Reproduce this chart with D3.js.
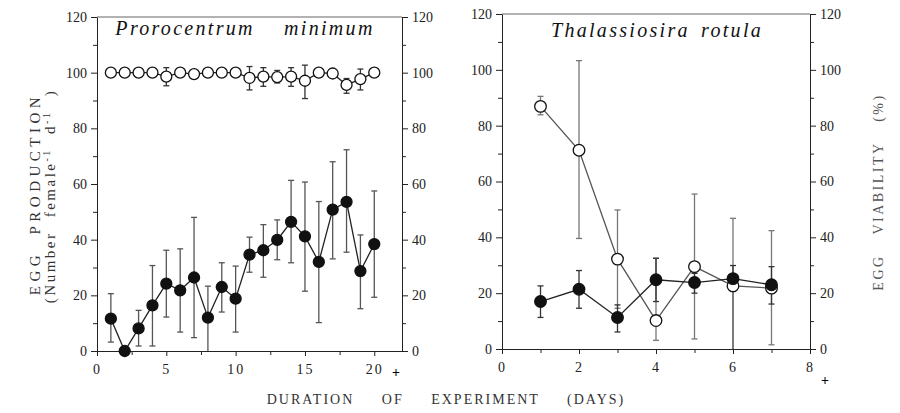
<!DOCTYPE html>
<html>
<head>
<meta charset="utf-8">
<script src="https://cdn.jsdelivr.net/npm/d3@7"></script>
<style>
  body { margin: 0; background: #fff; }
  svg text { font-family: "Liberation Serif", "DejaVu Serif", serif; }
  .axis path, .axis line { stroke: #222; }
  .axis text { font-size: 14px; fill: #222; }
</style>
</head>
<body>
<div id="chart"></div>
<script>
// Prorocentrum minimum (days 1-20)
var daysP = [1, 2, 3, 4, 5, 6, 7, 8, 9, 10, 11, 12, 13, 14, 15, 16, 17, 18, 19, 20];
var prodP   = [11.6, 0, 8.1, 16.4, 24.2, 21.8, 26.4, 12, 23, 18.8, 34.6, 36.2, 39.9, 46.4, 41.2, 32, 50.8, 53.6, 28.7, 38.4];
var prodPHi = [20.6, 0, 14.6, 30.7, 36.2, 36.7, 48, 23.3, 31.7, 30.5, 40.9, 45.4, 47.1, 61.3, 60.7, 53.7, 68, 72.3, 41.7, 57.5];
var prodPLo = [3.2, 0, 1.8, 1.8, 12.2, 6.8, 4.8, 0, 14, 6.8, 28.3, 26.5, 32.8, 31.7, 21.5, 10.2, 33.1, 35.5, 15.2, 19.3];
var viabP   = [100, 100, 100, 100, 98.6, 100, 99.5, 100, 100, 100, 98.1, 98.6, 98.4, 98.6, 97.1, 100, 99.7, 95.6, 97.7, 100];
var viabPHi = [100, 100, 100, 100, 101.8, 100, 99.5, 100, 100, 100, 102.2, 101.8, 100.8, 101.8, 102.7, 100, 99.7, 97.9, 101.3, 100];
var viabPLo = [100, 100, 100, 100, 95.3, 100, 99.5, 100, 100, 100, 93.8, 95.1, 96.3, 95.1, 90.7, 100, 99.7, 92.6, 93.8, 100];

// Thalassiosira rotula (days 1-7)
var daysT = [1, 2, 3, 4, 5, 6, 7];
var prodT   = [17.0, 21.4, 11.3, 24.8, 23.8, 25.2, 23.0];
var prodTHi = [22.6, 28.1, 15.8, 32.5, 27.1, 29.9, 29.5];
var prodTLo = [11.3, 14.6, 6.1, 17.0, 20.0, 0, 16.1];
var viabT   = [86.9, 71.2, 32.2, 10.2, 29.5, 22.6, 21.8];
var viabTHi = [90.5, 103.3, 49.8, 32.5, 55.5, 46.8, 42.4];
var viabTLo = [83.9, 39.6, 14.6, 3.1, 3.6, 20.6, 1.5];

var yTicks = [0, 20, 40, 60, 80, 100, 120];

var w = 900, h = 413;
var svg = d3.select("#chart").append("svg").attr("width", w).attr("height", h);

function series(days, vals, hi, lo) {
  return days.map(function(d, i) { return {x: d, y: vals[i], hi: hi[i], lo: lo[i]}; });
}

function drawPanel(cfg) {
  var x = d3.scaleLinear().domain([0, cfg.xmax]).range([cfg.x0, cfg.x1]);
  var y = d3.scaleLinear().domain([0, 120]).range([cfg.y0, cfg.y1]);
  var g = svg.append("g");

  // top frame line
  g.append("line")
    .attr("x1", x(0)).attr("x2", x(cfg.xmax))
    .attr("y1", y(120)).attr("y2", y(120))
    .style("stroke", "#999").style("stroke-width", 1.5);

  // minor y ticks
  var minor = d3.range(10, 120, 20);
  g.append("g").attr("class", "axis")
    .attr("transform", "translate(" + x(0) + ",0)")
    .call(d3.axisLeft(y).tickValues(minor).tickSize(4).tickFormat(""))
    .call(function(a) { a.select(".domain").remove(); });
  g.append("g").attr("class", "axis")
    .attr("transform", "translate(" + x(cfg.xmax) + ",0)")
    .call(d3.axisRight(y).tickValues(minor).tickSize(4).tickFormat(""))
    .call(function(a) { a.select(".domain").remove(); });

  // main y axes
  g.append("g").attr("class", "axis")
    .attr("transform", "translate(" + x(0) + ",0)")
    .call(d3.axisLeft(y).tickValues(yTicks).tickSize(6).tickSizeOuter(0).tickPadding(4));
  g.append("g").attr("class", "axis")
    .attr("transform", "translate(" + x(cfg.xmax) + ",0)")
    .call(d3.axisRight(y).tickValues(yTicks).tickSize(6).tickSizeOuter(0).tickPadding(4));

  // x axis
  g.append("g").attr("class", "axis")
    .attr("transform", "translate(0," + y(0) + ")")
    .call(d3.axisBottom(x).tickValues(cfg.minorX).tickSize(4).tickFormat(""))
    .call(function(a) { a.select(".domain").remove(); });
  g.append("g").attr("class", "axis")
    .attr("transform", "translate(0," + y(0) + ")")
    .call(d3.axisBottom(x).tickValues(cfg.xTicks).tickSize(5).tickSizeOuter(0).tickPadding(8))
    .selectAll("text").style("letter-spacing", "2px");

  // the small "+" after the last x label
  g.append("text")
    .attr("x", cfg.plusX).attr("y", cfg.plusY)
    .attr("text-anchor", "middle")
    .style("font-size", "14px").style("font-weight", "bold")
    .text("+");

  var line = d3.line().x(function(d) { return x(d.x); }).y(function(d) { return y(d.y); });

  cfg.sets.forEach(function(s) {
    // error bars
    var eb = g.append("g");
    s.data.forEach(function(d) {
      if (d.hi - d.lo < 0.5) return;
      eb.append("line")
        .attr("x1", x(d.x)).attr("x2", x(d.x))
        .attr("y1", y(d.hi)).attr("y2", y(d.lo))
        .style("stroke", s.barColor).style("stroke-width", 1.3);
      [d.hi, d.lo].forEach(function(v) {
        if (v <= 0) return;
        eb.append("line")
          .attr("x1", x(d.x) - 3).attr("x2", x(d.x) + 3)
          .attr("y1", y(v)).attr("y2", y(v))
          .style("stroke", s.barColor).style("stroke-width", 1.3);
      });
    });
  });

  cfg.sets.forEach(function(s) {
    g.append("path")
      .datum(s.data)
      .attr("d", line)
      .style("fill", "none")
      .style("stroke", s.lineColor)
      .style("stroke-width", 1.3);
    g.append("g").selectAll("circle")
      .data(s.data)
      .join("circle")
      .attr("cx", function(d) { return x(d.x); })
      .attr("cy", function(d) { return y(d.y); })
      .attr("r", cfg.r)
      .style("fill", s.filled ? "#111" : "#fff")
      .style("stroke", "#111")
      .style("stroke-width", 1.3);
  });

  g.append("text")
    .attr("x", cfg.titleX).attr("y", cfg.titleY)
    .attr("text-anchor", "middle")
    .style("font-size", "20px").style("font-style", "italic")
    .style("letter-spacing", cfg.letterSpace).style("word-spacing", cfg.wordSpace)
    .style("fill", "#111")
    .text(cfg.title);
}

drawPanel({
  x0: 97, x1: 402, y0: 351, y1: 17, xmax: 22,
  xTicks: [0, 5, 10, 15, 20],
  minorX: d3.range(2.5, 22, 5),
  plusX: 396, plusY: 377, r: 5.5,
  title: "Prorocentrum minimum", titleX: 245, titleY: 35, letterSpace: "2.3px", wordSpace: "22px",
  sets: [
    {data: series(daysP, viabP, viabPHi, viabPLo), filled: false, lineColor: "#222", barColor: "#333"},
    {data: series(daysP, prodP, prodPHi, prodPLo), filled: true, lineColor: "#222", barColor: "#555"}
  ]
});

drawPanel({
  x0: 502, x1: 810, y0: 349, y1: 14, xmax: 8,
  xTicks: [0, 2, 4, 6, 8],
  minorX: [1, 3, 5, 7],
  plusX: 825, plusY: 385, r: 5.8,
  title: "Thalassiosira rotula", titleX: 657, titleY: 37, letterSpace: "2.3px", wordSpace: "4px",
  sets: [
    {data: series(daysT, viabT, viabTHi, viabTLo), filled: false, lineColor: "#555", barColor: "#777"},
    {data: series(daysT, prodT, prodTHi, prodTLo), filled: true, lineColor: "#222", barColor: "#333"}
  ]
});

// axis titles
svg.append("text")
  .attr("transform", "translate(40,194) rotate(-90)")
  .attr("text-anchor", "middle")
  .style("font-size", "15px").style("letter-spacing", "4.5px").style("word-spacing", "8px").style("fill", "#333")
  .text("EGG PRODUCTION");
var t2 = svg.append("text")
  .attr("transform", "translate(55,196) rotate(-90)")
  .attr("text-anchor", "middle")
  .style("font-size", "15px").style("letter-spacing", "2.5px").style("word-spacing", "8px").style("fill", "#333");
t2.append("tspan").text("(Number female");
t2.append("tspan").attr("dy", -5).style("font-size", "10px").text("-1");
t2.append("tspan").attr("dy", 5).text(" d");
t2.append("tspan").attr("dy", -5).style("font-size", "10px").text("-1");
t2.append("tspan").attr("dy", 5).text(" )");

svg.append("text")
  .attr("transform", "translate(883,192) rotate(-90)")
  .attr("text-anchor", "middle")
  .style("font-size", "14px").style("letter-spacing", "2.5px").style("word-spacing", "14px").style("fill", "#555")
  .text("EGG VIABILITY (%)");

svg.append("text")
  .attr("x", 446).attr("y", 404)
  .attr("text-anchor", "middle")
  .style("font-size", "14px").style("letter-spacing", "2px").style("word-spacing", "22px").style("fill", "#333")
  .text("DURATION OF EXPERIMENT (DAYS)");
</script>
</body>
</html>
